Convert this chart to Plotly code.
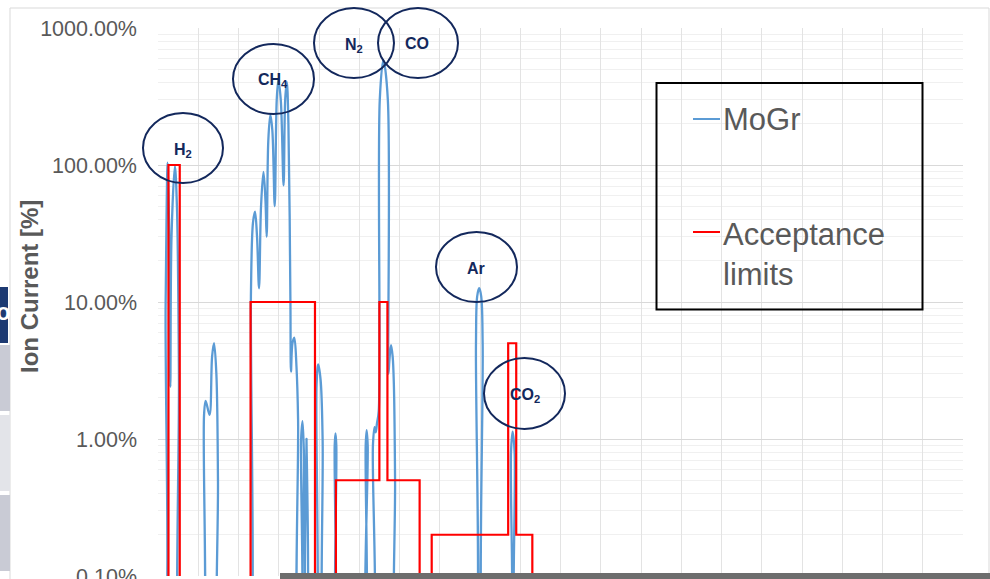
import plotly.graph_objects as go

# ---------------- data ----------------
LOW = 0.03  # percent, below the visible axis floor (line runs off the bottom)

mogr_mass = [0.3, 0.6, 0.95, 1.2, 1.4, 1.53, 1.68, 2.1, 2.35, 2.6, 2.7, 2.85,
             5.45, 5.6, 5.72, 5.92, 6.4, 6.72, 6.96, 7.25, 7.45, 7.5, 7.65,
             11.25, 11.4, 11.55, 11.8, 12.05, 12.3, 12.55, 12.8, 13.1, 13.35, 13.5,
             13.7, 13.95, 14.2, 14.5, 14.75, 14.95, 15.25, 15.6, 15.8, 16.0,
             16.2, 16.45, 16.52, 16.7, 16.93, 17.2, 17.4, 17.5,
             17.68, 17.78, 17.95, 18.12, 18.2, 18.36, 18.45, 18.55, 18.7,
             19.4, 19.55, 19.7, 19.9, 20.2, 20.45, 20.6, 20.75,
             21.7, 21.85, 21.95, 22.05, 22.15, 22.25, 22.4,
             25.55, 25.7, 25.8, 25.92, 26.05, 26.15,
             26.55, 26.7, 26.9, 27.05, 27.2, 27.42, 27.55, 28.0, 28.55,
             28.63, 28.75, 28.95, 29.15, 29.3, 29.45, 29.5, 29.65,
             39.3, 39.45, 39.5, 39.65, 39.9, 40.15, 40.33, 40.4, 40.55,
             43.63, 43.78, 43.85, 44.05, 44.3, 44.4, 44.55,
             50.0]
mogr_pct = [LOW, LOW, 10, 104, 30, 2.4, 30, 98, 50, 3, LOW, LOW,
            LOW, LOW, 1.5, 1.9, 1.5, 4.0, 5.0, 3.0, 0.5, LOW, LOW,
            LOW, LOW, 12, 38, 45.6, 30, 12.6, 50, 89, 55, 30,
            150, 232, 180, 50, 300, 417, 300, 71, 300, 405,
            200, 10, 3.1, 5.0, 5.5, 3.4, 1.4, LOW,
            LOW, 1.0, 1.35, 0.8, LOW, LOW, 1.0, LOW, LOW,
            LOW, LOW, 2.5, 3.5, 2.7, 1.0, LOW, LOW,
            LOW, LOW, 0.9, 1.1, 0.9, LOW, LOW,
            LOW, LOW, 0.9, 1.16, 0.9, LOW,
            LOW, 0.9, 1.22, 1.12, 1.3, 1.6, 300, 583, 300,
            3.0, 3.8, 4.85, 4.0, 2.5, 0.5, LOW, LOW,
            LOW, LOW, 5, 11, 12.6, 11, 5, LOW, LOW,
            LOW, LOW, 0.8, 1.13, 0.8, LOW, LOW,
            LOW]

limit_mass = [1.3, 1.3, 2.7, 2.7, 11.5, 11.5, 19.5, 19.5, 22.1, 22.1, 27.5, 27.5,
              28.5, 28.5, 32.5, 32.5, 34.0, 34.0, 43.5, 43.5, 44.5, 44.5, 46.5, 46.5]
limit_pct = [LOW, 100, 100, LOW, LOW, 10, 10, LOW, LOW, 0.5, 0.5, 10,
             10, 0.5, 0.5, LOW, LOW, 0.2, 0.2, 5, 5, 0.2, 0.2, LOW]

y_tick_vals = [0.001, 0.01, 0.1, 1, 10]

series_names = ["MoGr", "Acceptance limits"]

# ---------------- figure ----------------
W, H = 990, 579
L, R, T, B = 158, 963, 28, 576


def px(x):
    return (x - L) / (R - L)


def py(y):
    return (B - y) / (B - T)


fig = go.Figure()
fig.add_trace(go.Scatter(
    x=mogr_mass, y=[v / 100 for v in mogr_pct], mode="lines",
    name=series_names[0], line=dict(color="#5B9BD5", width=2.3, shape="spline", smoothing=1.0),
    showlegend=False))
fig.add_trace(go.Scatter(
    x=limit_mass, y=[v / 100 for v in limit_pct], mode="lines",
    name=series_names[1], line=dict(color="#FF0000", width=2.2), showlegend=False))

FONT = "Liberation Sans, Arial, sans-serif"
GREY = "#595959"
NAVY = "#13285C"

shapes = []
# outer chart frame
shapes.append(dict(type="rect", xref="paper", yref="paper", x0=px(10), x1=px(989), y0=py(640), y1=py(8),
                   line=dict(color="#D9D9D9", width=1), layer="below"))

# ellipses around gas labels (pixel boxes)
ellipses = [(143, 113, 223, 183), (233, 44, 314, 114), (314, 8, 394, 78),
            (378, 8, 458, 78), (436, 232, 517, 302), (484, 358, 565, 429)]
for x0, y0, x1, y1 in ellipses:
    shapes.append(dict(type="circle", xref="paper", yref="paper", x0=px(x0), x1=px(x1),
                       y0=py(y1), y1=py(y0), line=dict(color=NAVY, width=2)))

# legend box and samples
shapes.append(dict(type="rect", xref="paper", yref="paper", x0=px(656.5), x1=px(922.5),
                   y0=py(309.5), y1=py(83), line=dict(color="#000000", width=2), fillcolor="rgba(0,0,0,0)"))
shapes.append(dict(type="line", xref="paper", yref="paper", x0=px(693), x1=px(720), y0=py(119), y1=py(119),
                   line=dict(color="#5B9BD5", width=2)))
shapes.append(dict(type="line", xref="paper", yref="paper", x0=px(693), x1=px(720), y0=py(232), y1=py(232),
                   line=dict(color="#FF0000", width=2)))

# background artifacts at the left edge and bottom
shapes.append(dict(type="rect", xref="paper", yref="paper", x0=px(-2), x1=px(8), y0=py(343), y1=py(287),
                   line=dict(width=0), fillcolor="#1D3A72"))
for (ya, yb, c) in [(345, 411, "#C9CBD5"), (415, 491, "#E3E4E9"), (495, 571, "#C9CBD5")]:
    shapes.append(dict(type="rect", xref="paper", yref="paper", x0=px(-2), x1=px(10), y0=py(yb), y1=py(ya),
                       line=dict(width=0), fillcolor=c))
shapes.append(dict(type="rect", xref="paper", yref="paper", x0=px(280), x1=px(995), y0=py(590), y1=py(573),
                   line=dict(width=0), fillcolor="#6D6D6D"))

annotations = []
labels = [("<b>H<sub>2</sub></b>", 183, 150), ("<b>CH<sub>4</sub></b>", 273, 81),
          ("<b>N<sub>2</sub></b>", 354, 45), ("<b>CO</b>", 417, 44),
          ("<b>Ar</b>", 476, 268), ("<b>CO<sub>2</sub></b>", 525, 395)]
for txt, x, y in labels:
    annotations.append(dict(text=txt, x=px(x), y=py(y), xref="paper", yref="paper", showarrow=False,
                            xanchor="center", yanchor="middle",
                            font=dict(family=FONT, size=16, color=NAVY)))

annotations.append(dict(text=series_names[0], x=px(721), y=py(119), xref="paper", yref="paper",
                        showarrow=False, xanchor="left", yanchor="middle", align="left",
                        font=dict(family=FONT, size=31, color=GREY)))
annotations.append(dict(text="Acceptance<br>limits", x=px(721), y=py(254), xref="paper", yref="paper",
                        showarrow=False, xanchor="left", yanchor="middle", align="left",
                        font=dict(family=FONT, size=31, color=GREY)))
annotations.append(dict(text="<b>Ion Current [%]</b>", x=px(29), y=py(287), xref="paper", yref="paper",
                        showarrow=False, textangle=-90, xanchor="center", yanchor="middle",
                        font=dict(family=FONT, size=24, color=GREY)))
annotations.append(dict(text="<b>o</b>", x=px(3), y=py(311), xref="paper", yref="paper",
                        showarrow=False, xanchor="center", yanchor="middle",
                        font=dict(family=FONT, size=24, color="#FFFFFF")))

fig.update_layout(
    width=W, height=H,
    margin=dict(l=L, r=W - R, t=T, b=H - B, pad=0, autoexpand=False),
    paper_bgcolor="#FFFFFF", plot_bgcolor="#FFFFFF",
    shapes=shapes, annotations=annotations, showlegend=False,
    xaxis=dict(range=[0, 100], tick0=0, dtick=5, showticklabels=False, showgrid=True,
               gridcolor="#E3E3E3", gridwidth=1, zeroline=False, showline=False, ticks="",
               automargin=False),
    yaxis=dict(type="log", range=[-3, 1], tickvals=y_tick_vals, tickformat=".2%",
               showgrid=True, gridcolor="#D9D9D9", gridwidth=1, zeroline=False, showline=False,
               ticks="", ticklabelstandoff=20, ticklabeloverflow="allow", automargin=False,
               tickfont=dict(family=FONT, size=21.5, color=GREY),
               minor=dict(dtick="D1", showgrid=True, gridcolor="#F0F0F0", gridwidth=1)),
)

fig.write_html("out.html", config={"displayModeBar": False},
               post_script="document.body.style.margin='0';")
